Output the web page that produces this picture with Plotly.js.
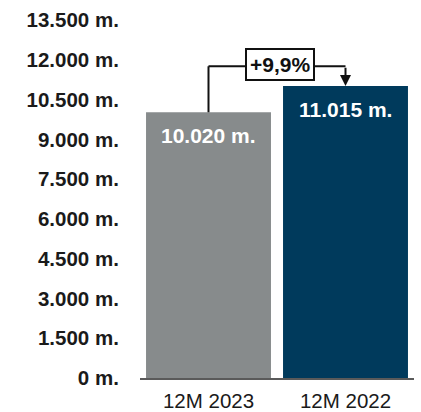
<!DOCTYPE html>
<html>
<head>
<meta charset="utf-8">
<script src="https://cdn.plot.ly/plotly-3.0.1.min.js"></script>
<style>html,body{margin:0;padding:0;background:#fff;}#chart{width:421px;height:412px;}</style>
</head>
<body>
<div id="chart"></div>
<script>
var categories = ['12M 2023', '12M 2022'];
var values = [10020, 11015];
var valueLabels = ['10.020 m.', '11.015 m.'];
var barColors = ['#878B8C', '#003A5C'];
var tickVals = [0, 1500, 3000, 4500, 6000, 7500, 9000, 10500, 12000, 13500];
var tickText = ['0 m.', '1.500 m.', '3.000 m.', '4.500 m.', '6.000 m.', '7.500 m.', '9.000 m.', '10.500 m.', '12.000 m.', '13.500 m.'];
var changeLabel = '+9,9%';

var bracketRise = 46; // pixels above first bar top
var FONT = 'Liberation Sans, Arial, sans-serif';
var trace = {
  type: 'bar',
  x: categories,
  y: values,
  marker: {color: barColors},
  hoverinfo: 'none'
};

var annotations = values.map(function (v, i) {
  return {
    x: categories[i], y: v, xref: 'x', yref: 'y',
    text: valueLabels[i], showarrow: false,
    yanchor: 'top', yshift: -10,
    font: {family: FONT, size: 21, color: '#ffffff', weight: 'bold'}
  };
});
annotations.push({
  x: categories[1], y: values[1], xref: 'x', yref: 'y',
  ax: 0, ay: -20, axref: 'pixel', ayref: 'pixel',
  text: '', showarrow: true, arrowhead: 2, arrowsize: 1.1, arrowwidth: 2, arrowcolor: '#111',
  standoff: 0
});
annotations.push({
  x: 0.52, y: values[0], xref: 'x', yref: 'y', yshift: bracketRise + 2,
  text: '<b>' + changeLabel + '</b>', showarrow: false,
  bgcolor: '#ffffff', bordercolor: '#111', borderwidth: 2, borderpad: 3,
  font: {family: FONT, size: 21, color: '#111'}
});

var shapes = [
  {type: 'line', xref: 'x', yref: 'y', ysizemode: 'pixel', yanchor: values[0],
   x0: 0, x1: 0, y0: 0, y1: bracketRise, line: {color: '#111', width: 2}},
  {type: 'line', xref: 'x', yref: 'y', ysizemode: 'pixel', yanchor: values[0],
   x0: 0, x1: 1, y0: bracketRise, y1: bracketRise, line: {color: '#111', width: 2}}
];

var layout = {
  width: 421, height: 412,
  margin: {l: 140, r: 7, t: 20, b: 34},
  paper_bgcolor: '#ffffff', plot_bgcolor: '#ffffff',
  showlegend: false,
  bargap: 0.088,
  xaxis: {
    type: 'category', showgrid: false, zeroline: false,
    showline: true, linecolor: '#5a5a5a', linewidth: 2,
    ticks: 'outside', ticklen: 3, tickcolor: 'rgba(0,0,0,0)',
    tickfont: {family: FONT, size: 20.5, color: '#1a1a1a'}
  },
  yaxis: {
    range: [0, 13500], showgrid: false, zeroline: false, showline: false,
    tickvals: tickVals, ticktext: tickText,
    ticks: 'outside', ticklen: 16, tickcolor: 'rgba(0,0,0,0)',
    tickfont: {family: FONT, size: 20.5, color: '#1a1a1a', weight: 'bold'}
  },
  annotations: annotations,
  shapes: shapes
};

Plotly.newPlot('chart', [trace], layout, {displayModeBar: false, staticPlot: true}).then(function (gd) {
  var ya = gd._fullLayout.yaxis;
  var gap = ya.l2p(values[0]) - ya.l2p(values[1]);
  return Plotly.relayout(gd, {'annotations[2].ay': -(bracketRise - gap)});
});
</script>
</body>
</html>
